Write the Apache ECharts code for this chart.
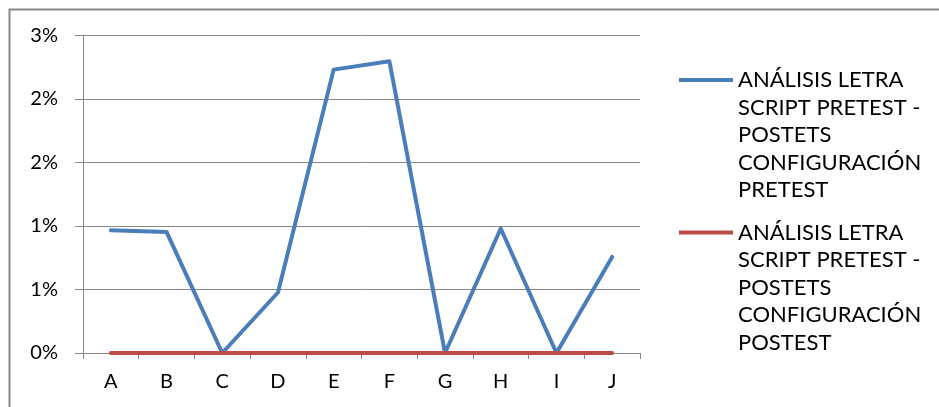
<!DOCTYPE html>
<html>
<head>
<meta charset="utf-8">
<script src="https://cdn.jsdelivr.net/npm/echarts@6/dist/echarts.min.js"></script>
<style>
html,body{margin:0;padding:0;background:#fff;}
#chart{width:939px;height:407px;}
</style>
</head>
<body>
<div id="chart"></div>
<script>
const categories = ['A','B','C','D','E','F','G','H','I','J'];
const pretestValues = [0.966, 0.953, 0, 0.476, 2.23, 2.296, 0, 0.98, 0, 0.756];
const postestValues = [0, 0, 0, 0, 0, 0, 0, 0, 0, 0];
const yTickLabels = ['0%','1%','1%','2%','2%','3%'];
const seriesNames = [
  'ANÁLISIS LETRA\nSCRIPT PRETEST -\nPOSTETS\nCONFIGURACIÓN\nPRETEST',
  'ANÁLISIS LETRA\nSCRIPT PRETEST -\nPOSTETS\nCONFIGURACIÓN\nPOSTEST'
];

const FONT = 'Lato';
const LH = 27.5;
const chart = echarts.init(document.getElementById('chart'), null, {renderer: 'canvas'});

function legendFor(name, iconY) {
  return {
    data: [name],
    left: 674,
    top: iconY - 5 - LH * 4.5,
    padding: 5,
    orient: 'vertical',
    icon: 'rect',
    itemWidth: 54,
    itemHeight: 4,
    selectedMode: false,
    formatter: function (n) { return '\n\n\n\n' + n; },
    textStyle: {
      fontFamily: FONT,
      fontSize: 22,
      color: '#000',
      lineHeight: LH
    }
  };
}

chart.setOption({
  backgroundColor: '#fff',
  animation: false,
  graphic: [{
    type: 'rect',
    shape: {x: 9.5, y: 9.5, width: 1000, height: 500},
    style: {fill: 'none', stroke: '#878787', lineWidth: 2},
    silent: true
  }],
  legend: [
    legendFor(seriesNames[0], 80),
    legendFor(seriesNames[1], 232.5)
  ],
  grid: {left: 83, top: 35.3, width: 557, height: 317.7, containLabel: false},
  xAxis: {
    type: 'category',
    data: categories,
    boundaryGap: true,
    axisLine: {show: true, lineStyle: {color: '#868686', width: 1}},
    axisTick: {show: true, length: 6, lineStyle: {color: '#868686'}},
    axisLabel: {fontFamily: FONT, fontSize: 20, color: '#000', margin: 19},
    splitLine: {show: false}
  },
  yAxis: {
    type: 'value',
    min: 0,
    max: 2.5,
    interval: 0.5,
    axisLine: {show: true, lineStyle: {color: '#868686', width: 1}},
    axisTick: {show: true, length: 8, lineStyle: {color: '#868686'}},
    axisLabel: {
      fontFamily: FONT, fontSize: 20, color: '#000', margin: 25,
      formatter: function (v, i) { return yTickLabels[i]; }
    },
    splitLine: {show: true, lineStyle: {color: '#868686', width: 1}}
  },
  series: [
    {
      name: seriesNames[0],
      type: 'line',
      data: pretestValues,
      symbol: 'none',
      color: '#4A7EBB',
      lineStyle: {color: '#4A7EBB', width: 4, cap: 'round', join: 'round'}
    },
    {
      name: seriesNames[1],
      type: 'line',
      data: postestValues,
      symbol: 'none',
      color: '#BE4B48',
      lineStyle: {color: '#BE4B48', width: 4, cap: 'round', join: 'round'}
    }
  ]
});
</script>
</body>
</html>
